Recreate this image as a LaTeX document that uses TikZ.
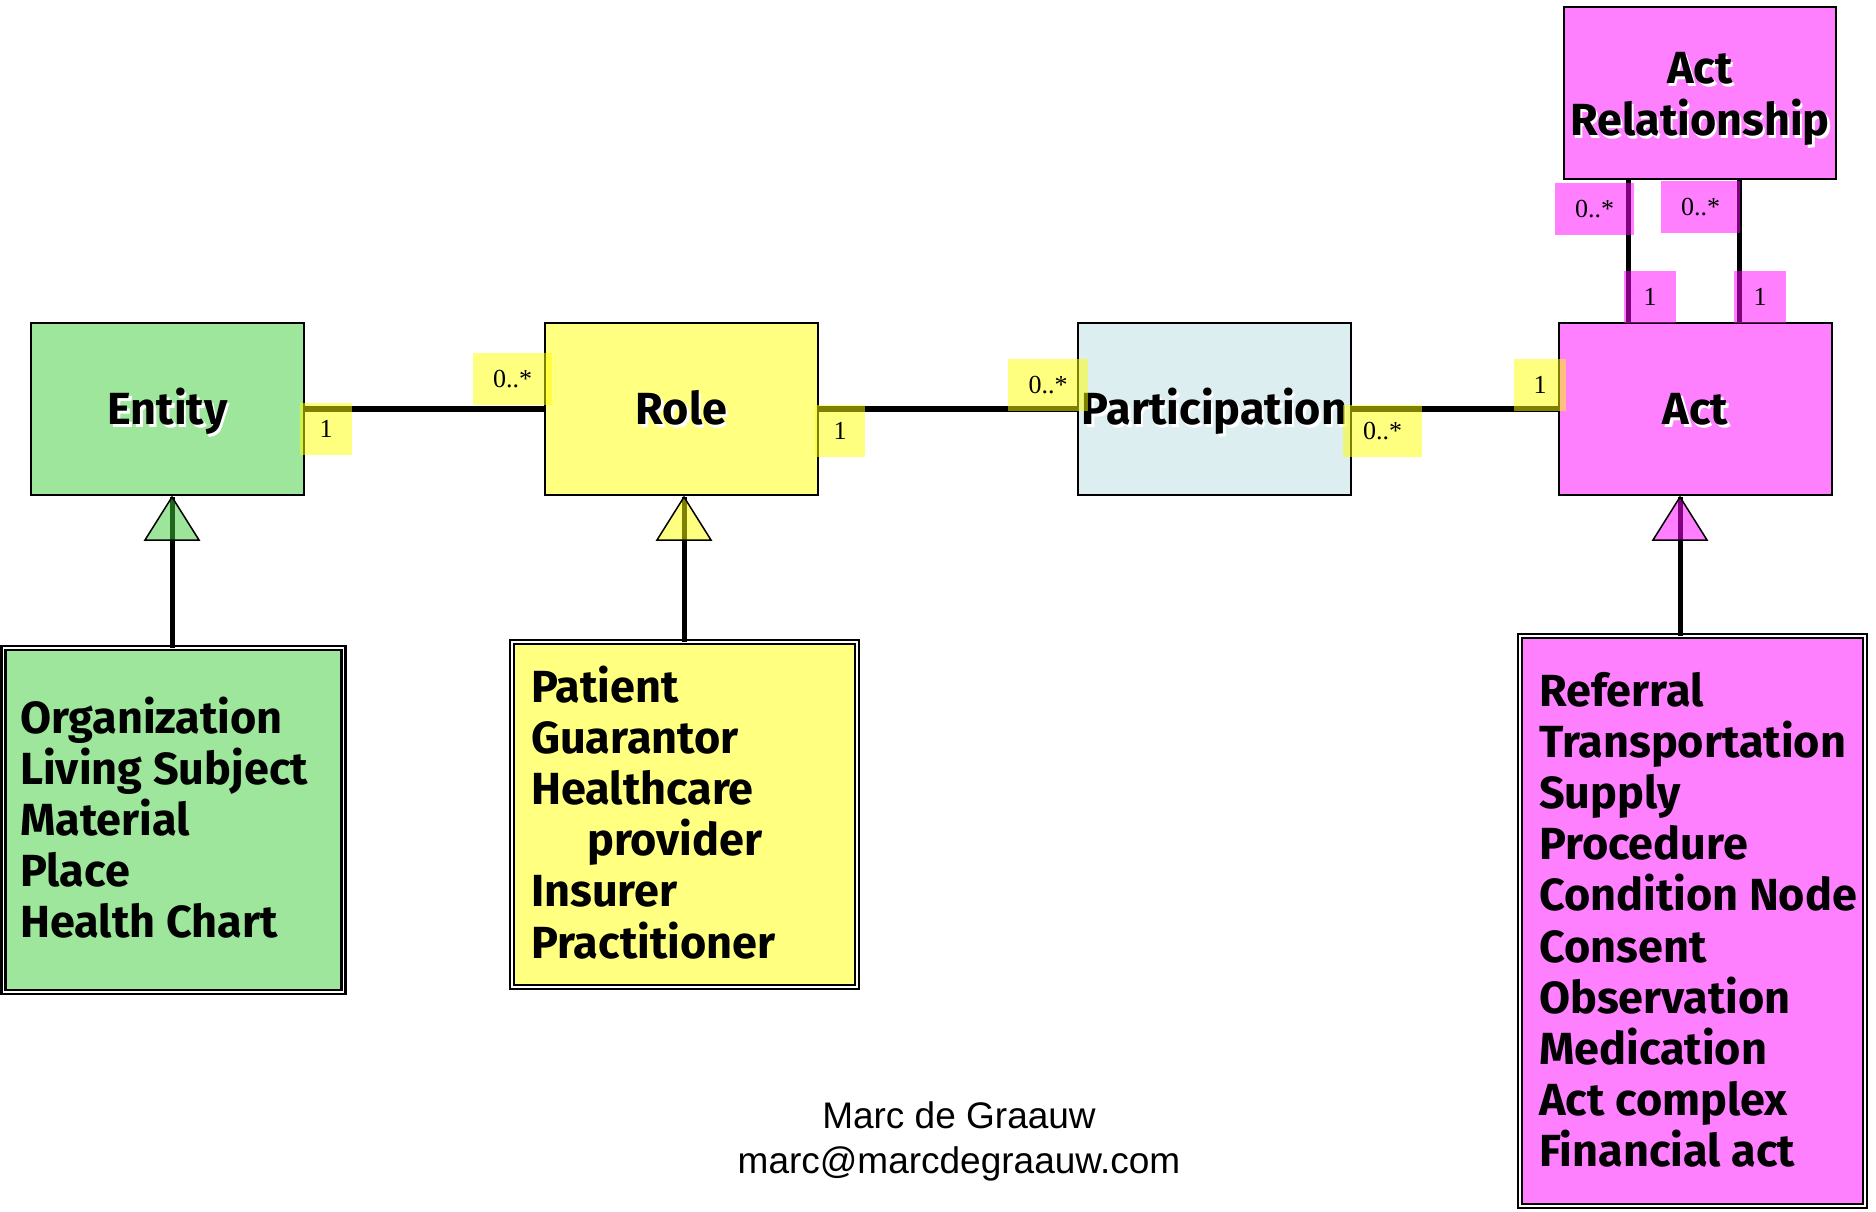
\documentclass[tikz,border=0pt]{standalone}
\usepackage{fontspec}
\newfontfamily\cfont{Fira Sans}
\newfontfamily\lfont{Liberation Serif}
\newfontfamily\ffont{Liberation Sans}
\definecolor{egreen}{RGB}{157,230,155}
\definecolor{egreenT}{RGB}{59,205,55}
\definecolor{ryellow}{RGB}{255,255,128}
\definecolor{pblue}{RGB}{221,238,241}
\definecolor{apink}{RGB}{255,128,255}
\definecolor{pureyellow}{RGB}{255,255,0}
\definecolor{puremagenta}{RGB}{255,0,255}
\newcommand\shtext[1]{\leavevmode\rlap{\kern2.5pt\raisebox{-2.5pt}{\textcolor{white}{#1}}}#1}
\newcommand\vlines[1]{\vtop{\baselineskip=51.2pt\lineskiplimit=-200pt\relax #1}}
\tikzset{
  box/.style={draw=black, line width=2pt, inner sep=0pt, outer sep=0pt,
    minimum width=273pt, minimum height=172pt},
  title/.style={inner sep=0pt, font={\cfont\bfseries\fontsize{45}{51}\selectfont},
    text height=31pt, text depth=0pt},
  listbox/.style={draw=black, line width=2.5pt, double=white, double distance=1.5pt,
    inner sep=0pt, outer sep=0pt},
  listtext/.style={inner sep=0pt, anchor=base west,
    font={\cfont\bfseries\fontsize{45}{51.2}\selectfont}},
  conn/.style={draw=black, line width=6pt},
  vconn/.style={draw=black, line width=5pt},
  gentri/.style={draw=black, line width=1.5pt, fill opacity=0.5, line join=miter},
  lbl/.style={inner sep=0pt, outer sep=0pt, minimum height=52pt,
    font={\lfont\fontsize{26}{30}\selectfont}, fill opacity=0.5, text opacity=1},
  one/.style={lbl, minimum width=52pt},
  many/.style={lbl, minimum width=79pt},
}
\begin{document}
\begin{tikzpicture}[x=1pt, y=-1pt]
\useasboundingbox (0,0) rectangle (1876,1211);
\fill[white] (0,0) rectangle (1876,1211);

% main class boxes
\node[box, fill=egreen] (entity) at (167.5,409) {};
\node[title] (entityT) at (entity.center) {\shtext{Entity}};
\node[box, fill=ryellow] (role) at (681.5,409) {};
\node[title] (roleT) at (role.center) {\shtext{Role}};
\node[box, fill=pblue] (part) at (1214.5,409) {};
\node[title] (partT) at (part.center) {\shtext{Participation}};
\node[box, fill=apink] (act) at (1695.5,409) {};
\node[title] (actT) at (act.center) {\shtext{Act}};
\node[box, fill=apink, minimum width=272pt] (ar) at (1700,93) {};
\node[title] (arT1) at (1700,68) {\shtext{Act}};
\node[title] (arT2) at (1700,120) {\shtext{Relationship}};

% list boxes
\node[listbox, fill=egreen, minimum width=340pt, minimum height=344pt] (elist) at (173.5,820) {};
\node[listtext] (elistT) at (20,733) {\vlines{\hbox{Organization}\hbox{Living Subject}\hbox{Material}\hbox{Place}\hbox{Health Chart}}};
\node[listbox, fill=ryellow, minimum width=345pt, minimum height=345pt] (rlist) at (684.5,814.5) {};
\node[listtext] (rlistT) at (531,702) {\vlines{\hbox{Patient}\hbox{Guarantor}\hbox{Healthcare}\hbox{\kern56pt provider}\hbox{Insurer}\hbox{Practitioner}}};
\node[listbox, fill=apink, minimum width=345pt, minimum height=570pt] (alist) at (1692.5,921) {};
\node[listtext] (alistT) at (1539,706) {\vlines{\hbox{Referral}\hbox{Transportation}\hbox{Supply}\hbox{Procedure}\hbox{Condition Node}\hbox{Consent}\hbox{Observation}\hbox{Medication}\hbox{Act complex}\hbox{Financial act}}};

% associations
\draw[conn] (entity.east) -- (role.west);
\draw[conn] (role.east) -- (part.west);
\draw[conn] (part.east) -- (act.west);
\coordinate (v1) at (1628,0);
\coordinate (v2) at (1739,0);
\draw[vconn] (v1 |- ar.south) -- (v1 |- act.north);
\draw[vconn] (v2 |- ar.south) -- (v2 |- act.north);

% generalizations
\coordinate (etip) at (172,497);
\coordinate (rtip) at (684,497);
\coordinate (atip) at (1680,497);
\draw[vconn] (etip |- elist.north) -- (etip);
\draw[vconn] (rtip |- rlist.north) -- (rtip);
\draw[vconn] (atip |- alist.north) -- (atip);
\draw[gentri, fill=egreenT] (etip) -- ++(-27,43) -- ++(54,0) -- cycle;
\draw[gentri, fill=pureyellow] (rtip) -- ++(-27,43) -- ++(54,0) -- cycle;
\draw[gentri, fill=puremagenta] (atip) -- ++(-27,43) -- ++(54,0) -- cycle;

% multiplicities
\node[one, fill=pureyellow] (m1) at (326,429) {1};
\node[many, fill=pureyellow] (m2) at (512.5,379) {0..*};
\node[one, fill=pureyellow, minimum width=50pt] (m3) at (840,431) {1};
\node[many, fill=pureyellow, minimum width=80pt] (m4) at (1048,385) {0..*};
\node[many, fill=pureyellow] (m5) at (1382.5,431) {0..*};
\node[one, fill=pureyellow] (m6) at (1540,385) {1};
\node[many, fill=puremagenta] (m7) at (1594.5,209) {0..*};
\node[many, fill=puremagenta] (m8) at (1700.5,207) {0..*};
\node[one, fill=puremagenta] (m9) at (1650,297) {1};
\node[one, fill=puremagenta] (m10) at (1760,297) {1};

% footer
\node[font={\ffont\fontsize{37}{45}\selectfont}, align=center, inner sep=0pt] (footer) at (959,1141) {Marc de Graauw\\marc@marcdegraauw.com};
\end{tikzpicture}
\end{document}
